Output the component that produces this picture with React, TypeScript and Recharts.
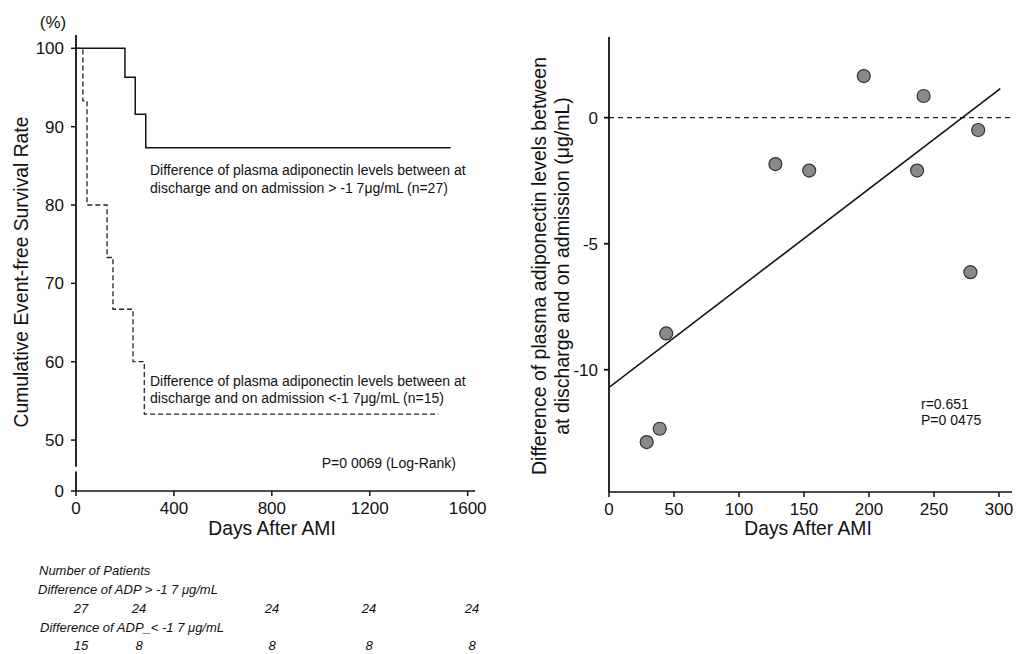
import React from 'react';
import {
  LineChart,
  Line,
  XAxis,
  YAxis,
  ReferenceLine,
  ComposedChart,
  Scatter,
} from 'recharts';

// Kaplan-Meier: event-free survival by change in adiponectin
const survDayTicks = [0, 400, 800, 1200, 1600];
const BREAK_ZERO = 43.5; // where the "0" sits below the axis break
const survRateTicks = [BREAK_ZERO, 50, 60, 70, 80, 90, 100];

const highDays = [0, 200, 242, 285, 1530];
const highRates = [100, 96.3, 91.6, 87.3, 87.3];

const lowDays = [0, 28, 45, 127, 151, 233, 279, 1481];
const lowRates = [100, 93.3, 80, 73.3, 66.7, 60, 53.3, 53.3];

const atRiskHigh = ['27', '24', '24', '24', '24'];
const atRiskLow = ['15', '8', '8', '8', '8'];

// Scatter: days after AMI vs change in adiponectin
const scatterDays = [196, 242, 284, 128, 154, 237, 278, 44, 39, 29];
const scatterDiff = [1.65, 0.86, -0.49, -1.84, -2.1, -2.1, -6.13, -8.56, -12.34, -12.87];
const fitDays = [0, 301];
const fitDiff = [-10.7, 1.15];
const diffTicks = [-10, -5, 0];
const scatterDayTicks = [0, 50, 100, 150, 200, 250, 300];

const highData = highDays.map((d, i) => ({ day: d, rate: highRates[i] }));
const lowData = lowDays.map((d, i) => ({ day: d, rate: lowRates[i] }));
const scatterData = scatterDays.map((d, i) => ({ day: d, val: scatterDiff[i] }));
const fitData = fitDays.map((d, i) => ({ day: d, val: fitDiff[i] }));

const FONT = "'Liberation Sans', Arial, Helvetica, sans-serif";
const INK = '#111';
const tickStyle = { fontSize: 17, fill: INK, fontFamily: FONT };

// column centres for the at-risk numbers
const riskCols = [81, 139, 272, 369, 472];

const Dot = (props: any) => {
  const { cx, cy } = props;
  return <circle cx={cx} cy={cy} r={6.5} fill="#8a8a8a" stroke="#333" strokeWidth={1.2} />;
};

function Txt({ x, y, children, size = 14, italic = false, align = 'left' }: any) {
  const style: React.CSSProperties = {
    position: 'absolute',
    top: y - size * 0.6,
    fontSize: size,
    fontStyle: italic ? 'italic' : 'normal',
    whiteSpace: 'nowrap',
    lineHeight: `${size * 1.2}px`,
    color: INK,
  };
  if (align === 'left') style.left = x;
  else if (align === 'right') style.right = 1016 - x;
  else {
    style.left = x - 200;
    style.width = 400;
    style.textAlign = 'center';
  }
  return <div style={style}>{children}</div>;
}

export default function App() {
  return (
    <div
      style={{
        position: 'absolute',
        left: 0,
        top: 0,
        width: 1016,
        height: 654,
        background: '#fff',
        fontFamily: FONT,
        overflow: 'hidden',
      }}
    >
      <div style={{ position: 'absolute', left: 0, top: 0 }}>
        <LineChart
          width={500}
          height={545}
          margin={{ top: 35, right: 25, left: 26, bottom: 14 }}
        >
          <XAxis
            dataKey="day"
            type="number"
            domain={[0, 1630]}
            ticks={survDayTicks}
            allowDataOverflow
            tick={tickStyle}
            tickSize={5}
            tickMargin={6}
            height={40}
            stroke={INK}
            strokeWidth={1.5}
          />
          <YAxis
            type="number"
            domain={[BREAK_ZERO, 101.7]}
            ticks={survRateTicks}
            allowDataOverflow
            tickFormatter={(v: number) => (v < 50 ? '0' : String(v))}
            tick={tickStyle}
            tickSize={5}
            tickMargin={7}
            width={50}
            axisLine={false}
            stroke={INK}
            strokeWidth={1.5}
          />
          <ReferenceLine
            segment={[{ x: 0, y: 101.7 }, { x: 0, y: 46.6 }]}
            stroke={INK}
            strokeWidth={1.8}
          />
          <ReferenceLine
            segment={[{ x: 0, y: 46.0 }, { x: 0, y: BREAK_ZERO }]}
            stroke={INK}
            strokeWidth={1.8}
          />
          <Line
            data={highData}
            dataKey="rate"
            type="stepAfter"
            stroke={INK}
            strokeWidth={1.5}
            dot={false}
            isAnimationActive={false}
          />
          <Line
            data={lowData}
            dataKey="rate"
            type="stepAfter"
            stroke="#222"
            strokeWidth={1.3}
            strokeDasharray="5 3"
            dot={false}
            isAnimationActive={false}
          />
        </LineChart>
      </div>

      <div style={{ position: 'absolute', left: 500, top: 0 }}>
        <ComposedChart
          width={516}
          height={560}
          margin={{ top: 37, right: 4, left: 69, bottom: 28 }}
        >
          <XAxis
            dataKey="day"
            type="number"
            domain={[0, 310]}
            ticks={scatterDayTicks}
            allowDataOverflow
            tick={tickStyle}
            tickSize={5}
            tickMargin={6}
            height={40}
            stroke={INK}
            strokeWidth={1.5}
          />
          <YAxis
            dataKey="val"
            type="number"
            domain={[-14.85, 3.2]}
            ticks={diffTicks}
            allowDataOverflow
            tick={tickStyle}
            tickSize={5}
            tickMargin={6}
            width={40}
            stroke={INK}
            strokeWidth={1.8}
          />
          <ReferenceLine y={0} stroke="#222" strokeWidth={1.2} strokeDasharray="5 4" />
          <Line
            data={fitData}
            dataKey="val"
            type="linear"
            stroke={INK}
            strokeWidth={1.6}
            dot={false}
            isAnimationActive={false}
          />
          <Scatter
            data={scatterData}
            dataKey="val"
            shape={<Dot />}
            isAnimationActive={false}
          />
        </ComposedChart>
      </div>

      {/* left chart texts */}
      <Txt x={53} y={23} size={17} align="center">(%)</Txt>
      <div
        style={{
          position: 'absolute',
          left: 22 - 200,
          top: 272 - 12,
          width: 400,
          height: 24,
          lineHeight: '24px',
          textAlign: 'center',
          fontSize: 19.3,
          color: INK,
          transform: 'rotate(-90deg)',
          whiteSpace: 'nowrap',
        }}
      >
        Cumulative Event-free Survival Rate
      </div>
      <Txt x={272} y={529} size={19.3} align="center">Days After AMI</Txt>

      <Txt x={150} y={170}>Difference of plasma adiponectin levels between at</Txt>
      <Txt x={150} y={188}>discharge and on admission &gt; -1 7μg/mL (n=27)</Txt>
      <Txt x={150} y={381}>Difference of plasma adiponectin levels between at</Txt>
      <Txt x={150} y={398}>discharge and on admission &lt;-1 7μg/mL (n=15)</Txt>
      <Txt x={456} y={463} align="right">P=0 0069 (Log-Rank)</Txt>

      {/* number at risk */}
      <Txt x={39} y={571} size={13} italic>Number of Patients</Txt>
      <Txt x={38} y={590} size={13} italic>Difference of ADP &gt; -1 7 μg/mL</Txt>
      {atRiskHigh.map((n, i) => (
        <Txt key={'h' + i} x={riskCols[i]} y={609} size={13} italic align="center">{n}</Txt>
      ))}
      <Txt x={40} y={628} size={13} italic>Difference of ADP_&lt; -1 7 μg/mL</Txt>
      {atRiskLow.map((n, i) => (
        <Txt key={'l' + i} x={riskCols[i]} y={646} size={13} italic align="center">{n}</Txt>
      ))}

      {/* right chart texts */}
      <div
        style={{
          position: 'absolute',
          left: 551 - 250,
          top: 266 - 23,
          width: 500,
          height: 46,
          lineHeight: '23px',
          textAlign: 'center',
          fontSize: 19.5,
          color: INK,
          transform: 'rotate(-90deg)',
          whiteSpace: 'nowrap',
        }}
      >
        Difference of plasma adiponectin levels between
        <br />
        at discharge and on admission (μg/mL)
      </div>
      <Txt x={808} y={529} size={19.3} align="center">Days After AMI</Txt>
      <Txt x={921} y={404}>r=0.651</Txt>
      <Txt x={921} y={420}>P=0 0475</Txt>
    </div>
  );
}
